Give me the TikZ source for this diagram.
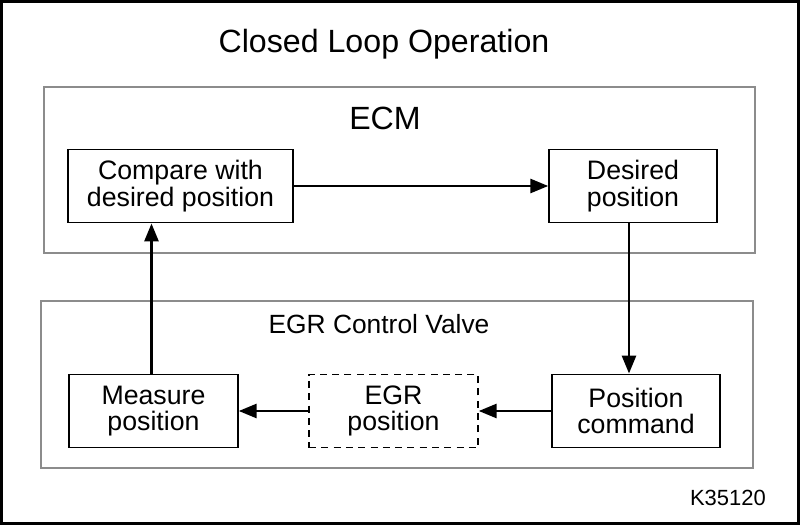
\documentclass[tikz,border=0pt]{standalone}
\usepackage{fontspec}
\setmainfont{Liberation Sans}
\usetikzlibrary{arrows.meta,positioning}
\definecolor{egrGrey}{HTML}{8c8c8c}
\tikzset{
  >={Triangle[length=3.6mm,width=2.8mm]},
  group/.style={draw=egrGrey, line width=0.6pt, inner sep=0pt},
  blk/.style={draw=black, line width=0.8pt, align=center, inner sep=2pt,
              minimum height=1.47cm, font=\fontsize{15.2}{15}\selectfont},
  ghost/.style={blk, dashed, dash pattern=on 4pt off 3pt},
  ttl/.style={font=\fontsize{18.3}{18}\selectfont},
  sub/.style={font=\fontsize{15}{15}\selectfont},
  flow/.style={->, draw=black, line width=1.6pt},
}

\begin{document}
\begin{tikzpicture}[x=0.2mm,y=-0.2mm]
  \useasboundingbox (0,0) rectangle (800,525);
  \draw[line width=1.7pt] (1.5,1.5) rectangle (798.5,523.5);
  \node[ttl] (title) at (384,44) {Closed Loop Operation};
  % ECM group
  \node[group,minimum width=14.22cm,minimum height=3.32cm] (ecm) at (399.5,170) {};
  \node[ttl] (ecmlbl) at (385,118) {ECM};
  \node[blk,minimum width=4.5cm] (cmp) at (180.5,186) {Compare with\\desired position};
  \node[blk,minimum width=3.36cm] (des) at (633,186) {Desired\\position};
  % valve group
  \node[group,minimum width=14.24cm,minimum height=3.34cm] (egrv) at (397,384.5) {};
  \node[sub] (egrvlbl) at (379,324) {EGR Control Valve};
  \node[blk,minimum width=3.38cm] (meas) at (153.5,411) {Measure\\position};
  \node[ghost,minimum width=3.38cm] (egrpos) at (393.5,411) {EGR\\position};
  \node[blk,minimum width=3.36cm] (cmd) at (636,411) {Position\\command};
  \node[font=\fontsize{12.5}{12}\selectfont,anchor=east] (fig) at (772,498) {K35120};
  % loop
  \draw[flow] (cmp) -- (des);
  \draw[flow] ([xshift=-0.8mm]des.south) -- ([xshift=-0.8mm]des.south |- cmd.north);
  \draw[flow] (cmd) -- (egrpos);
  \draw[flow] (egrpos) -- (meas);
  \draw[flow] ([xshift=-0.4mm]meas.north) -- ([xshift=-0.4mm]meas.north |- cmp.south);
\end{tikzpicture}
\end{document}
